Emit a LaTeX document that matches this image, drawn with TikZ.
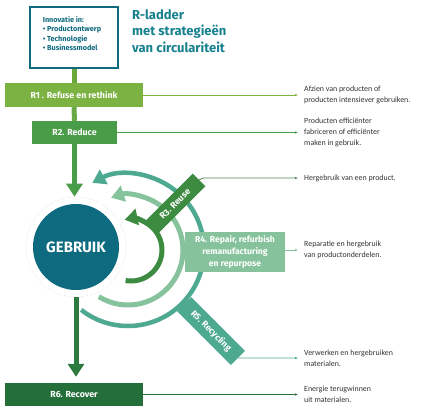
\documentclass[tikz,border=0pt]{standalone}
\usepackage{fontspec}
\setmainfont{Fira Sans}
\newfontfamily\descfont{Carlito}
\usetikzlibrary{arrows.meta}
\definecolor{cteal}{HTML}{0E6A7E}
\definecolor{ctitle}{HTML}{17818F}
\definecolor{cr1}{HTML}{7BB241}
\definecolor{cr2}{HTML}{4A9D48}
\definecolor{cr3}{HTML}{3D8B41}
\definecolor{cr4}{HTML}{86C39D}
\definecolor{cr5}{HTML}{4EA991}
\definecolor{cr6}{HTML}{246F39}
\definecolor{cdown}{HTML}{2C7A3D}
\definecolor{ctext}{HTML}{333333}
\definecolor{cvert}{HTML}{6AA83A}
\begin{document}
\begin{tikzpicture}[x=1pt,y=-1pt,
  lbl/.style={text=white, font=\fontsize{8.8}{10}\selectfont\bfseries, inner sep=0pt},
  desc/.style={anchor=west, align=left, inner sep=0pt, text=ctext, font=\descfont\fontsize{7.9}{11}\selectfont},
  conn/.style={line width=0.8pt, -{Latex[length=3pt,width=2.6pt]}, shorten >=6pt},
  big/.style={-{Triangle[width=16pt,length=13pt]}}]
\useasboundingbox (0,0) rectangle (425,413);
\fill[white] (0,0) rectangle (425,413);

% top box and title
\node[draw=cteal, line width=1.8pt, fill=white, minimum width=88pt, minimum height=61pt] (innov) at (74,37.5) {};
\node[align=left, inner sep=0pt, text=cteal, font=\fontsize{7.3}{9.5}\selectfont\bfseries] (innovtxt) at (72,33.5) {Innovatie in:\\• Productontwerp\\• Technologie\\• Businessmodel};
\node[anchor=north west, align=left, inner sep=0pt, text=ctitle, font=\fontsize{13}{16.5}\selectfont\bfseries] (title) at (132,9) {R-ladder\\met strategieën\\van circulariteit};

% ladder boxes
\node[fill=cr1, minimum width=138pt, minimum height=24pt, lbl] (r1) at (74,95) {R1 . Refuse en rethink};
\node[fill=cr2, minimum width=85pt, minimum height=23pt, lbl] (r2) at (74.5,132.5) {R2. Reduce};
\node[fill=cr6, minimum width=138pt, minimum height=23pt, lbl] (r6) at (74,394.5) {R6. Recover};

% arcs
\draw[cr5, line width=4.5pt, big] (128,250) ++(128:76) arc[start angle=128, end angle=-118, radius=76];
\draw[cr4, line width=5pt, big] (128,250) ++(122:55) arc[start angle=122, end angle=-108, radius=55];
\draw[cr3, line width=5pt, big] (131,250) ++(100:31) arc[start angle=100, end angle=-102, radius=31];

% circle
\node[circle, fill=white, draw=gray!35, dotted, line width=0.6pt, minimum size=100pt, inner sep=0pt] (halo) at (76,247) {};
\node[circle, fill=cteal, minimum size=86pt, inner sep=0pt, text=white, font=\fontsize{15}{18}\selectfont\bfseries] (gebr) at (76,247) {GEBRUIK};

% vertical flow
\draw[cvert, line width=5pt] (innov.south) -- (r1.north);
\draw[cr1!60!cr2, line width=5pt] (r1.south) -- (r2.north);
\draw[cr2, line width=5pt, big] (r2.south) -- (r2.south |- halo.north);
\draw[cdown, line width=5pt, big, shorten >=6pt] (halo.south) -- (halo.south |- r6.north);

% strategy labels on arcs
\node[fill=cr3, rotate=45, minimum width=68pt, minimum height=18pt, lbl] (r3) at (175,204) {R3. Reuse};
\node[fill=cr4, minimum width=100pt, minimum height=40pt, align=center, lbl, font=\fontsize{8.6}{12}\selectfont\bfseries] (r4) at (235,252) {R4. Repair, refurbish\\remanufacturing\\en repurpose};
\node[fill=cr5, rotate=-45, minimum width=76pt, minimum height=20pt, lbl] (r5) at (211,331) {R5. Recycling};

% descriptions
\node[desc] (d1) at (304,95) {Afzien van producten of\\producten intensiever gebruiken.};
\node[desc] (d2) at (304,132.5) {Producten efficiënter\\fabriceren of efficiënter\\maken in gebruik.};
\node[desc] (d3) at (304,178) {Hergebruik van een product.};
\node[desc] (d4) at (304,250) {Reparatie en hergebruik\\van productonderdelen.};
\node[desc] (d5) at (304,358) {Verwerken en hergebruiken\\materialen.};
\node[desc] (d6) at (304,394.5) {Energie terugwinnen\\uit materialen.};

% connectors
\draw[conn, cr1] (r1.east) -- (d1.west);
\draw[conn, cr2] (r2.east) -- (d2.west);
\draw[conn, cr3!70!gray] (r3.east) -- ([xshift=4pt]r3.east |- d3.west) -- (d3.west);
\draw[conn, cr4] (r4.east |- d4.west) -- (d4.west);
\draw[conn, cr5] (r5.east) -- ([xshift=2pt]r5.east |- d5.west) -- (d5.west);
\draw[conn, cr6] (r6.east) -- (d6.west);
\end{tikzpicture}
\end{document}
